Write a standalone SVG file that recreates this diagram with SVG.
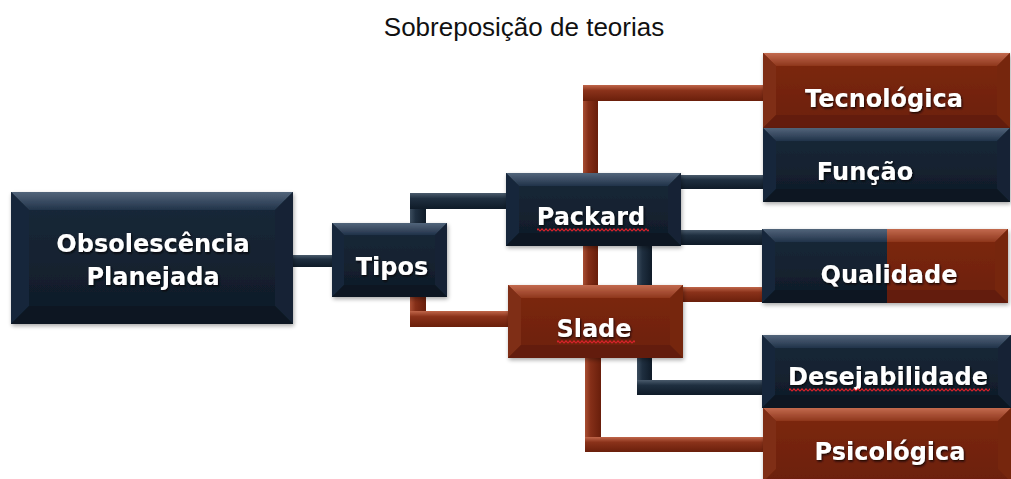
<svg xmlns="http://www.w3.org/2000/svg" width="1011" height="479" viewBox="0 0 1011 479">
<style>
.title{font-family:"Liberation Sans",Arial,sans-serif;font-size:26px;fill:#111;}
.lbl{font-family:"DejaVu Sans",Verdana,sans-serif;font-weight:bold;font-size:24px;fill:#fff;text-anchor:middle;filter:url(#tshadow);}
.nface{fill:url(#navyFace);}
.ntop{fill:url(#navyTop);}
.nside{fill:#19283a;}
.nright{fill:#152434;}
.nbot{fill:#0c1723;}
.rface{fill:url(#redFace);}
.rtop{fill:url(#redTop);}
.rside{fill:#7f2d17;}
.rright{fill:#762811;}
.rbot{fill:#631e0a;}
.box{filter:url(#shadow);}
.hn{fill:url(#navyBarH);}
.vn{fill:url(#navyBarV);}
.hr{fill:url(#redBarH);}
.vr{fill:url(#redBarV);}
.sq{fill:url(#squiggle);}
</style>
<defs>
<linearGradient id="navyFace" x1="0" y1="0" x2="0" y2="1"><stop offset="0" stop-color="#1b2a3a"/><stop offset="1" stop-color="#0e1a27"/></linearGradient>
<linearGradient id="navyTop" x1="0" y1="0" x2="0" y2="1"><stop offset="0" stop-color="#52647a"/><stop offset="1" stop-color="#22334a"/></linearGradient>
<linearGradient id="redFace" x1="0" y1="0" x2="0" y2="1"><stop offset="0" stop-color="#7e2912"/><stop offset="1" stop-color="#6b1f0b"/></linearGradient>
<linearGradient id="redTop" x1="0" y1="0" x2="0" y2="1"><stop offset="0" stop-color="#c26a4e"/><stop offset="1" stop-color="#8e361c"/></linearGradient>
<linearGradient id="navyBarH" x1="0" y1="0" x2="0" y2="1"><stop offset="0" stop-color="#4a5b6c"/><stop offset="0.35" stop-color="#1f2f40"/><stop offset="1" stop-color="#0f1b28"/></linearGradient>
<linearGradient id="navyBarV" x1="0" y1="0" x2="1" y2="0"><stop offset="0" stop-color="#3c4d5e"/><stop offset="0.35" stop-color="#1f2f40"/><stop offset="1" stop-color="#0f1b28"/></linearGradient>
<linearGradient id="redBarH" x1="0" y1="0" x2="0" y2="1"><stop offset="0" stop-color="#c0664a"/><stop offset="0.35" stop-color="#8a321a"/><stop offset="1" stop-color="#6a1f0b"/></linearGradient>
<linearGradient id="redBarV" x1="0" y1="0" x2="1" y2="0"><stop offset="0" stop-color="#a84e33"/><stop offset="0.35" stop-color="#852f18"/><stop offset="1" stop-color="#681e0b"/></linearGradient>
<pattern id="squiggle" x="0" y="0" width="4" height="4" patternUnits="userSpaceOnUse">
<path d="M0,3.2 L2,0.8 L4,3.2" fill="none" stroke="#d8202a" stroke-width="1.1"/>
</pattern>
<filter id="shadow" x="-5%" y="-10%" width="115%" height="130%">
<feGaussianBlur in="SourceAlpha" stdDeviation="2"/>
<feOffset dx="1" dy="2" result="b"/>
<feComponentTransfer><feFuncA type="linear" slope="0.35"/></feComponentTransfer>
<feMerge><feMergeNode/><feMergeNode in="SourceGraphic"/></feMerge>
</filter>
<filter id="tshadow" x="-10%" y="-20%" width="120%" height="150%">
<feDropShadow dx="1" dy="1.5" stdDeviation="0.8" flood-color="#000" flood-opacity="0.8"/>
</filter>
</defs>
<rect width="1011" height="479" fill="#fff"/>
<text class="title" x="524" y="36" text-anchor="middle">Sobreposição de teorias</text>

<g id="connectors">
<rect class="hn" x="290" y="255" width="45" height="12"/>
<rect class="vn" x="410" y="193" width="16" height="32"/>
<rect class="hn" x="410" y="193" width="98" height="16"/>
<rect class="vr" x="410" y="295" width="16" height="32"/>
<rect class="hr" x="410" y="311" width="100" height="16"/>
<rect class="vr" x="583" y="85" width="15" height="202"/>
<rect class="hr" x="583" y="85" width="182" height="16"/>
<rect class="hn" x="679" y="175" width="86" height="14"/>
<rect class="hn" x="679" y="230" width="85" height="15"/>
<rect class="vn" x="637" y="244" width="15" height="151"/>
<rect class="hn" x="637" y="380" width="127" height="15"/>
<rect class="hr" x="681" y="287" width="83" height="15"/>
<rect class="vr" x="585" y="356" width="16" height="96"/>
<rect class="hr" x="585" y="437" width="180" height="15"/>
</g>

<g id="node-obsolescencia" class="box">
<rect class="nface" x="11" y="192" width="282" height="132"/>
<polygon class="ntop" points="11,192 293,192 275,210 29,210"/>
<polygon class="nside" points="11,192 29,210 29,306 11,324"/>
<polygon class="nright" points="293,192 293,324 275,306 275,210"/>
<polygon class="nbot" points="11,324 29,306 275,306 293,324"/>
<text class="lbl" x="153" y="252">Obsolescência</text>
<text class="lbl" x="153" y="285">Planejada</text>
</g>

<g id="node-tipos" class="box">
<rect class="nface" x="332" y="223" width="115" height="74"/>
<polygon class="ntop" points="332,223 447,223 435,235 344,235"/>
<polygon class="nside" points="332,223 344,235 344,285 332,297"/>
<polygon class="nright" points="447,223 447,297 435,285 435,235"/>
<polygon class="nbot" points="332,297 344,285 435,285 447,297"/>
<text class="lbl" x="392" y="275">Tipos</text>
</g>

<g id="node-packard" class="box">
<rect class="nface" x="506" y="173" width="175" height="73"/>
<polygon class="ntop" points="506,173 681,173 668,186 519,186"/>
<polygon class="nside" points="506,173 519,186 519,233 506,246"/>
<polygon class="nright" points="681,173 681,246 668,233 668,186"/>
<polygon class="nbot" points="506,246 519,233 668,233 681,246"/>
<text class="lbl" x="591" y="225">Packard</text>
<rect class="sq" x="537" y="228" width="112" height="4"/>
</g>

<g id="node-slade" class="box">
<rect class="rface" x="508" y="285" width="175" height="73"/>
<polygon class="rtop" points="508,285 683,285 670,298 521,298"/>
<polygon class="rside" points="508,285 521,298 521,345 508,358"/>
<polygon class="rright" points="683,285 683,358 670,345 670,298"/>
<polygon class="rbot" points="508,358 521,345 670,345 683,358"/>
<text class="lbl" x="594" y="337">Slade</text>
<rect class="sq" x="557" y="340" width="78" height="4"/>
</g>

<g id="node-tecnologica" class="box">
<rect class="rface" x="763" y="53" width="247" height="75"/>
<polygon class="rtop" points="763,53 1010,53 997,66 776,66"/>
<polygon class="rside" points="763,53 776,66 776,115 763,128"/>
<polygon class="rright" points="1010,53 1010,128 997,115 997,66"/>
<polygon class="rbot" points="763,128 776,115 997,115 1010,128"/>
<text class="lbl" x="884" y="107">Tecnológica</text>
</g>

<g id="node-funcao" class="box">
<rect class="nface" x="763" y="128" width="247" height="74"/>
<polygon class="ntop" points="763,128 1010,128 997,141 776,141"/>
<polygon class="nside" points="763,128 776,141 776,189 763,202"/>
<polygon class="nright" points="1010,128 1010,202 997,189 997,141"/>
<polygon class="nbot" points="763,202 776,189 997,189 1010,202"/>
<text class="lbl" x="865" y="180">Função</text>
</g>

<g id="node-qualidade" class="box">
<rect class="nface" x="762" y="229" width="125" height="74"/>
<polygon class="ntop" points="762,229 887,229 887,242 775,242"/>
<polygon class="nside" points="762,229 775,242 775,290 762,303"/>
<polygon class="nbot" points="762,303 775,290 887,290 887,303"/>
<rect class="rface" x="887" y="229" width="121" height="74"/>
<polygon class="rtop" points="887,229 1008,229 995,242 887,242"/>
<polygon class="rright" points="1008,229 1008,303 995,290 995,242"/>
<polygon class="rbot" points="887,303 887,290 995,290 1008,303"/>
<text class="lbl" x="889" y="283">Qualidade</text>
</g>

<g id="node-desejabilidade" class="box">
<rect class="nface" x="762" y="335" width="249" height="73"/>
<polygon class="ntop" points="762,335 1011,335 998,348 775,348"/>
<polygon class="nside" points="762,335 775,348 775,395 762,408"/>
<polygon class="nright" points="1011,335 1011,408 998,395 998,348"/>
<polygon class="nbot" points="762,408 775,395 998,395 1011,408"/>
<text class="lbl" x="888" y="385">Desejabilidade</text>
<rect class="sq" x="789" y="388" width="201" height="4"/>
</g>

<g id="node-psicologica" class="box">
<rect class="rface" x="763" y="408" width="248" height="74"/>
<polygon class="rtop" points="763,408 1011,408 998,421 776,421"/>
<polygon class="rside" points="763,408 776,421 776,469 763,482"/>
<polygon class="rright" points="1011,408 1011,482 998,469 998,421"/>
<text class="lbl" x="890" y="460">Psicológica</text>
</g>
</svg>
